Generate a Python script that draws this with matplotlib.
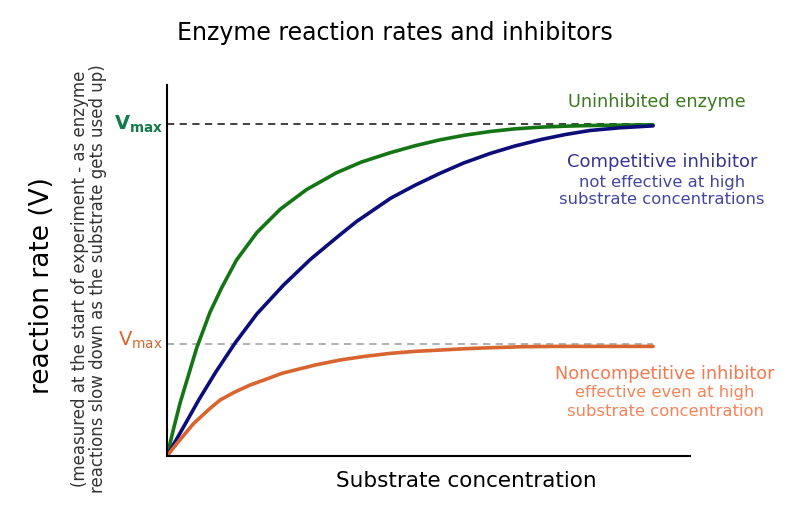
import numpy as np
from matplotlib import pyplot as plt

## values (substrate 0..10, rate in units of the top Vmax)

vmax_top = 1.0
vmax_low = 0.337

s_green = [0, 0.14, 0.27, 0.61, 0.885, 1.13, 1.43, 1.85, 2.33, 2.87, 3.49, 4.0, 4.59,
	5.1, 5.62, 6.13, 6.65, 7.16, 7.68, 8.19, 8.7, 9.3, 10]
v_green = [0, 0.085, 0.16, 0.325, 0.433, 0.508, 0.590, 0.673, 0.743, 0.802, 0.853, 0.885, 0.913,
	0.934, 0.952, 0.966, 0.977, 0.985, 0.990, 0.993, 0.995, 0.996, 0.997]

s_blue = [0, 0.35, 0.65, 1.0, 1.4, 1.85, 2.4, 2.95, 3.55, 3.9, 4.6, 5.1, 5.6, 6.1,
	6.65, 7.15, 7.7, 8.2, 8.7, 9.3, 10]
v_blue = [0, 0.090, 0.168, 0.252, 0.340, 0.428, 0.515, 0.592, 0.665, 0.706, 0.776, 0.815, 0.850, 0.882,
	0.911, 0.933, 0.953, 0.968, 0.980, 0.988, 0.994]

s_orange = [0, 0.206, 0.549, 0.891, 1.097, 1.4, 1.714, 2.0, 2.366, 3.051, 3.56, 4.07,
	4.59, 5.1, 5.62, 6.13, 6.65, 7.3, 8.02, 9.0, 10]
v_orange = [0, 0.038, 0.098, 0.144, 0.169, 0.193, 0.214, 0.229, 0.249, 0.274, 0.289, 0.300,
	0.309, 0.315, 0.319, 0.323, 0.326, 0.329, 0.330, 0.330, 0.330]

W, H = 795, 524

def fx(px):
	return px / W

def fy(py):
	return 1 - py / H

fig = plt.figure(figsize=(W/100, H/100), dpi=100)
ax = fig.add_axes([fx(167), fy(456), fx(690) - fx(167), fy(85) - fy(456)])
ax.set_xlim(0, 10.76)
ax.set_ylim(0, 1.117)
for side in ['top', 'right']:
	ax.spines[side].set_visible(False)
ax.spines['left'].set_linewidth(1.5)
ax.spines['bottom'].set_linewidth(1.5)
ax.set_xticks([])
ax.set_yticks([])

## dashed Vmax lines
ax.plot([0, 10], [vmax_top, vmax_top], color='#333333', lw=1.3, dashes=(4, 3))
ax.plot([0, 10], [vmax_low, vmax_low], color='#aaaaaa', lw=1.3, dashes=(4, 3))

## curves
ax.plot(s_green, v_green, color='#157515', lw=2.6, solid_capstyle='round', solid_joinstyle='round')
ax.plot(s_blue, v_blue, color='#0d0d7a', lw=2.6, solid_capstyle='round', solid_joinstyle='round')
ax.plot(s_orange, v_orange, color='#d8652f', lw=2.6, solid_capstyle='round', solid_joinstyle='round')

## Vmax labels
fig.text(fx(163), fy(124), r'$\mathregular{V_{max}}$', color='#137a4a', fontsize=14,
	ha='right', va='center', fontweight='bold')
fig.text(fx(163), fy(340), r'$\mathregular{V_{max}}$', color='#d8652f', fontsize=14,
	ha='right', va='center')

## titles
fig.text(fx(395), fy(33), 'Enzyme reaction rates and inhibitors', fontsize=17,
	ha='center', va='center')
fig.text(fx(466), fy(481), 'Substrate concentration', fontsize=15.5,
	ha='center', va='center')
fig.text(fx(42), fy(286), 'reaction rate (V)', fontsize=19, rotation=90,
	ha='center', va='center')
fig.text(fx(89), fy(279), '(measured at the start of experiment - as enzyme\nreactions slow down as the substrate gets used up)',
	fontsize=12, rotation=90, ha='center', va='center', color='#333333', linespacing=1.0)

## annotations
fig.text(fx(657), fy(102), 'Uninhibited enzyme', fontsize=12.8, color='#3d7a1f',
	ha='center', va='center')
fig.text(fx(662), fy(162), 'Competitive inhibitor', fontsize=13, color='#35358f',
	ha='center', va='center')
fig.text(fx(662), fy(182), 'not effective at high', fontsize=11.8,
	color='#4545a0', ha='center', va='center')
fig.text(fx(662), fy(200), 'substrate concentrations', fontsize=11.8,
	color='#4545a0', ha='center', va='center')
fig.text(fx(665), fy(374), 'Noncompetitive inhibitor', fontsize=12.7, color='#f27a50',
	ha='center', va='center')
fig.text(fx(665), fy(393), 'effective even at high', fontsize=11.8,
	color='#f5845a', ha='center', va='center')
fig.text(fx(665), fy(411), 'substrate concentration', fontsize=11.8,
	color='#f5845a', ha='center', va='center')

fig.savefig('out.png', dpi=100)
